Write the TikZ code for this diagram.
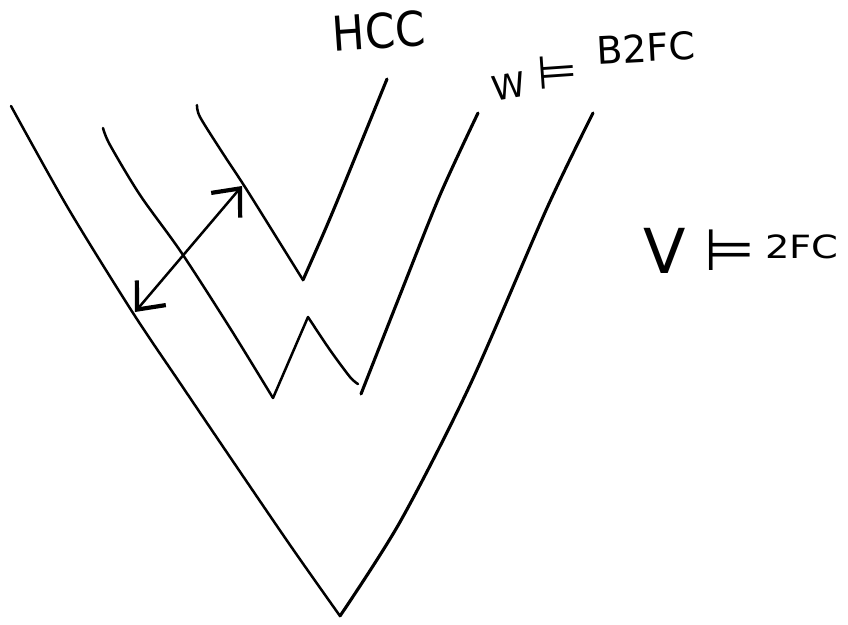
\documentclass[tikz,border=0pt]{standalone}
\usepackage{fontspec}
\setmainfont{DejaVu Sans}
\newfontfamily\condensed{DejaVu Sans Condensed}
\usetikzlibrary{arrows.meta}
\tikzset{
  pen/.style={line width=2.5pt, line cap=round, line join=round},
  thickpen/.style={line width=3.1pt, line cap=round, line join=round},
  label/.style={inner sep=0pt},
  barb/.tip={Straight Barb[length=22pt,width=38pt,line width=4.2pt]},
}
\begin{document}
\begin{tikzpicture}[x=1pt,y=-1pt]
\useasboundingbox (0,0) rectangle (848,624);
\fill[white] (0,0) rectangle (848,624);

% outer V
\draw[pen] plot[smooth,tension=0.5] coordinates {(11,106) (68,208) (133,313) (180,383) (230,457) (290,545) (340,616)};
\draw[thickpen] plot[smooth,tension=0.5] coordinates {(340,616) (400,522) (470,385) (547,208) (593,113)};

% middle W
\draw[pen] plot[smooth,tension=0.5] coordinates {(103,128) (110,145) (140,195) (181,252) (230,328) (273,398)};
\draw[pen] (273,398) -- (308,317);
\draw[pen] plot[smooth,tension=0.5] coordinates {(308,317) (330,350) (350,377) (358,384)};
\draw[thickpen] plot[smooth,tension=0.5] coordinates {(361,394) (400,295) (440,195) (478,113)};

% inner V
\draw[pen] plot[smooth,tension=0.5] coordinates {(197,105) (200,117) (222,152) (245,187) (275,235) (303,280)};
\draw[thickpen] plot[smooth,tension=0.5] coordinates {(303,280) (325,230) (343,187) (387,79)};

% distance arrow between the two left strands
\coordinate (lowend) at (135,312);
\coordinate (upend) at (242,186);
\draw[pen, {barb}-{barb}] (lowend) -- (upend);

% labels
\node[label, rotate=4, font=\condensed\fontsize{48}{48}\selectfont] (hcc) at (379,31) {HCC};
\node[label, rotate=10, font=\fontsize{34}{34}\selectfont] (w) at (509,86) {W};
\node[label, rotate=4, font=\fontsize{46}{46}\selectfont] (wm) at (557,72) {⊨};
\node[label, rotate=3, font=\fontsize{38}{38}\selectfont] (b) at (646,48) {B2FC};
\node[label, font=\fontsize{62}{62}\selectfont] (v) at (665,251) {V};
\node[label, font=\fontsize{58}{58}\selectfont] (vm) at (730,250) {⊨};
\node[label, font=\fontsize{32}{32}\selectfont] (vc) at (802,247) {\scalebox{1.2}[1]{2FC}};
\end{tikzpicture}
\end{document}
